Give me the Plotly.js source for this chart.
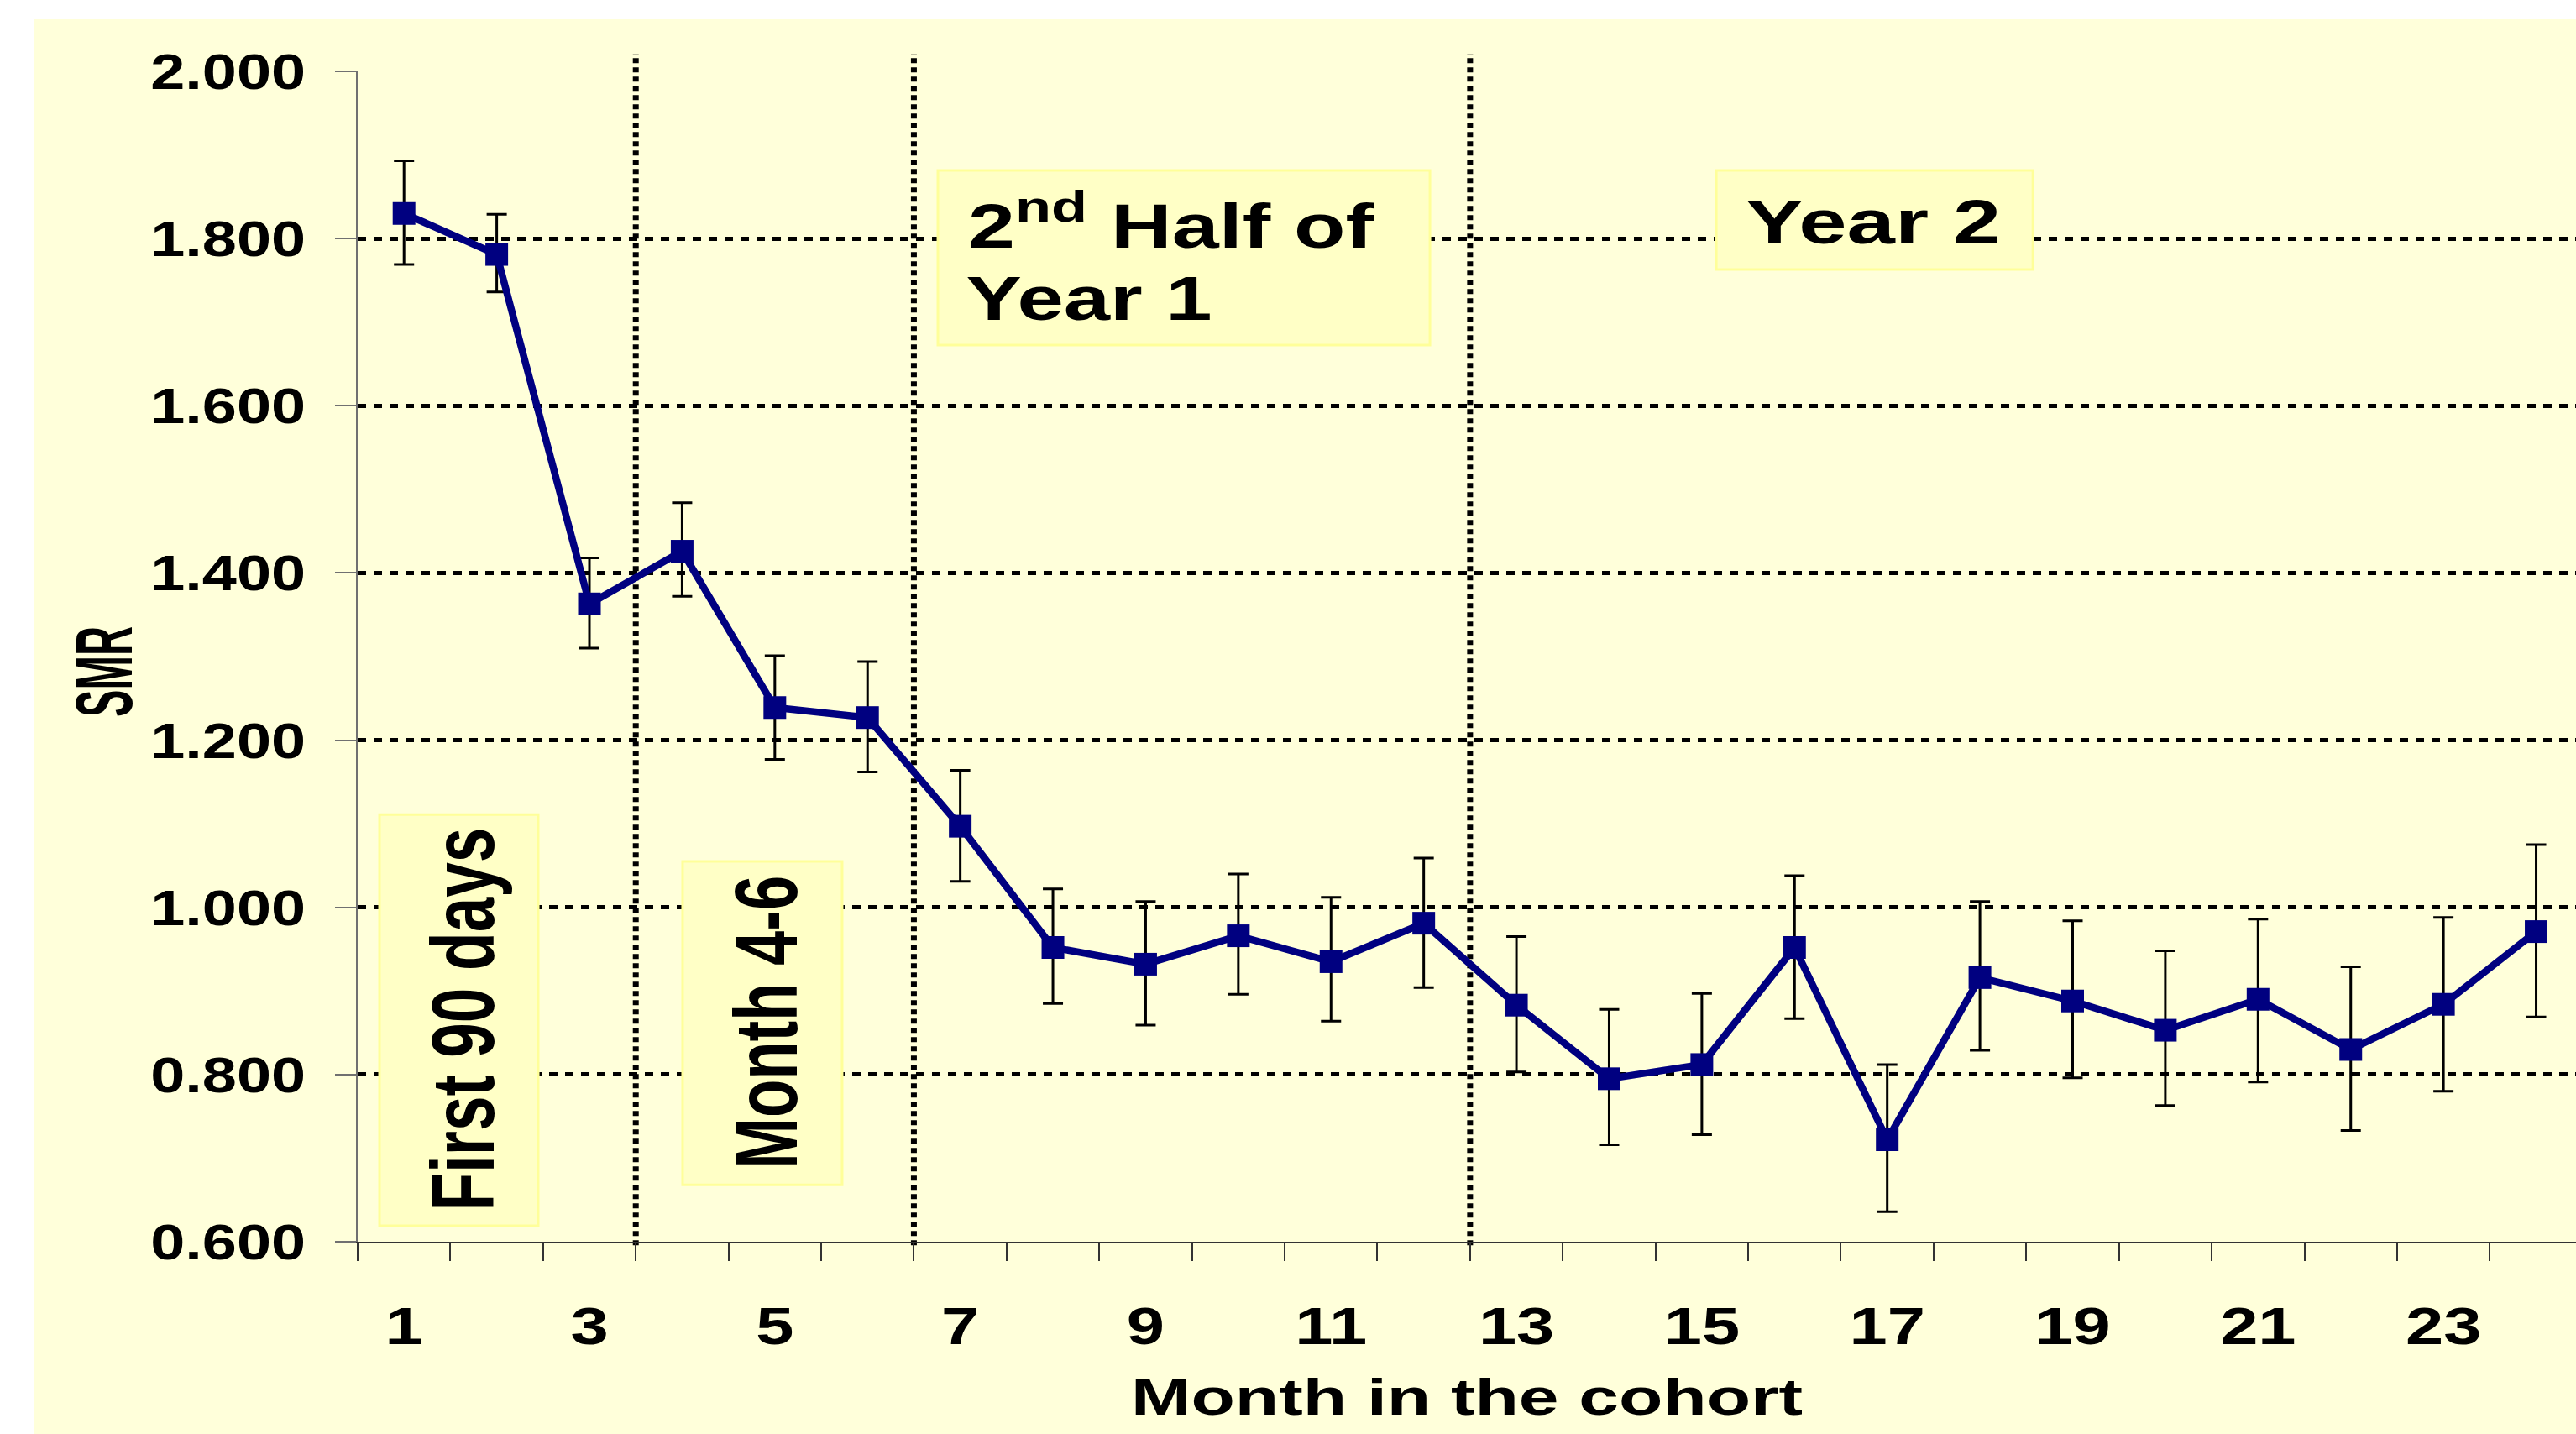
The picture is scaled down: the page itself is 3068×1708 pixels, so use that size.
<!DOCTYPE html>
<html>
<head>
<meta charset="utf-8">
<script src="https://cdn.plot.ly/plotly-3.0.1.min.js"></script>
<style>
html,body{margin:0;padding:0;background:#ffffff;width:3068px;height:1708px;overflow:hidden}
#chart{position:absolute;left:40px;top:23px;width:3028px;height:1685px}
</style>
</head>
<body>
<div id="chart"></div>
<script>
// ---- data ----
const months = [1,2,3,4,5,6,7,8,9,10,11,12,13,14,15,16,17,18,19,20,21,22,23,24];
const smr    = [1.830,1.781,1.363,1.426,1.239,1.227,1.097,0.952,0.932,0.966,0.935,0.981,
                0.883,0.795,0.812,0.952,0.722,0.916,0.888,0.853,0.890,0.830,0.884,0.971];
const ciLow  = [1.769,1.736,1.310,1.372,1.177,1.162,1.031,0.885,0.859,0.896,0.864,0.904,
                0.803,0.716,0.728,0.867,0.636,0.829,0.796,0.763,0.791,0.733,0.780,0.869];
const ciHigh = [1.893,1.829,1.418,1.484,1.301,1.294,1.164,1.022,1.007,1.040,1.012,1.059,
                0.965,0.878,0.897,1.038,0.812,1.007,0.984,0.948,0.986,0.929,0.988,1.075];
const tickMonths = [1,3,5,7,9,11,13,15,17,19,21,23];
const periodBreaks = [3.5, 6.5, 12.5];
const periodLabels = ['First 90 days', 'Month 4-6', '2<sup>nd</sup> Half of', 'Year 1', 'Year 2'];
const xTitle = 'Month in the cohort';
const yTitle = 'SMR';

// ---- styling ----
const NAVY = '#000080';
const BG = '#FFFFDA';
const BOX_FILL = '#FFFFC6';
const BOX_LINE = '#FFFF99';
const FONT = 'Liberation Sans, Arial, sans-serif';

const errPlus = smr.map((v, i) => ciHigh[i] - v);
const errMinus = smr.map((v, i) => v - ciLow[i]);

const trace = {
  type: 'scatter',
  mode: 'lines+markers',
  x: months,
  y: smr,
  line: {color: NAVY, width: 8.5},
  marker: {symbol: 'square', size: 27, color: NAVY},
  error_y: {type: 'data', symmetric: false, array: errPlus, arrayminus: errMinus,
            color: '#000000', thickness: 3, width: 12},
  cliponaxis: false,
  showlegend: false,
  hoverinfo: 'skip'
};

const shapes = [];
periodBreaks.forEach(b => shapes.push({
  type: 'line', xref: 'x', yref: 'paper', x0: b, x1: b, y0: -0.003, y1: 1.0151,
  line: {color: '#000000', width: 7, dash: '6px,5px'}, layer: 'between'
}));
const boxes = [
  [0.7355, 2.4475, 0.619, 1.111],
  [4.005, 5.726, 0.668, 1.055],
  [6.759, 12.067, 1.6726, 1.8815],
  [15.156, 18.571, 1.763, 1.8815]
];
boxes.forEach(b => shapes.push({
  type: 'rect', xref: 'x', yref: 'y', x0: b[0], x1: b[1], y0: b[2], y1: b[3],
  fillcolor: BOX_FILL, line: {color: BOX_LINE, width: 3}, layer: 'between'
}));

const annFont = (s) => ({family: FONT, size: s, color: '#000000', weight: 'bold'});
const annotations = [
  {text: periodLabels[0], x: 1.632, y: 0.866, textangle: -90, font: annFont(106)},
  {text: periodLabels[1], x: 4.902, y: 0.862, textangle: -90, font: annFont(106)},
  {text: periodLabels[2], x: 9.273, y: 1.8198, font: annFont(74)},
  {text: periodLabels[3], x: 8.385, y: 1.7284, font: annFont(74)},
  {text: periodLabels[4], x: 16.85, y: 1.8198, font: annFont(74)}
].map(a => Object.assign({xref: 'x', yref: 'y', showarrow: false, xanchor: 'center', yanchor: 'middle'}, a));

const layout = {
  width: 3028, height: 1685,
  margin: {l: 386, r: 0, t: 62, b: 229, pad: 0},
  paper_bgcolor: BG,
  plot_bgcolor: 'rgba(0,0,0,0)',
  font: {family: FONT, color: '#000000'},
  showlegend: false,
  xaxis: {
    type: 'linear',
    range: [0.5, 24.43],
    tickmode: 'array', tickvals: tickMonths, ticktext: tickMonths.map(String),
    ticks: '', showgrid: false, zeroline: false,
    showline: true, linecolor: '#333333', linewidth: 2,
    tickfont: {family: FONT, size: 63, weight: 'bold', color: '#000000'},
    ticklabelstandoff: 44,
    minor: {tickmode: 'linear', tick0: 0.5, dtick: 1, ticks: 'outside', ticklen: 21,
            tickwidth: 2, tickcolor: '#333333', showgrid: false},
    title: {text: xTitle, standoff: 29, font: {family: FONT, size: 62, weight: 'bold', color: '#000000'}},
    automargin: false, fixedrange: true
  },
  yaxis: {
    range: [0.6, 2.0],
    tickmode: 'linear', tick0: 0.6, dtick: 0.2, tickformat: '.3f',
    ticks: 'outside', ticklen: 25, tickwidth: 2, tickcolor: '#707070',
    showline: true, linecolor: '#707070', linewidth: 2,
    showgrid: true, gridcolor: '#000000', gridwidth: 5, griddash: '10px,9px',
    zeroline: false,
    tickfont: {family: FONT, size: 60, weight: 'bold', color: '#000000'},
    ticklabelstandoff: 23,
    title: {text: yTitle, standoff: 24, font: {family: FONT, size: 96, weight: 'bold', color: '#000000'}},
    automargin: false, fixedrange: true
  },
  shapes: shapes,
  annotations: annotations
};

// horizontal stretch of the reference's lettering (reference image is widened)
const tickStretchX = 1.29, tickStretchY = 1.23;
const titleLengths = {x: 800, y: 108};
const yTitleShift = 18;   // px downwards along the axis
const annLengths = [457, 350, 483, 293, 304];

function fit(el, len) {
  el.setAttribute('textLength', len.toFixed(1));
  el.setAttribute('lengthAdjust', 'spacingAndGlyphs');
}

Plotly.newPlot('chart', [trace], layout, {displayModeBar: false, staticPlot: true}).then(gd => {
  gd.querySelectorAll('.xtick text').forEach(t => fit(t, t.getComputedTextLength() * tickStretchX));
  gd.querySelectorAll('.ytick text').forEach(t => fit(t, t.getComputedTextLength() * tickStretchY));
  const xt = gd.querySelector('.xtitle'); if (xt) fit(xt, titleLengths.x);
  const yt = gd.querySelector('.ytitle');
  if (yt) {
    fit(yt, titleLengths.y);
    const tr = yt.getAttribute('transform') || '';
    yt.setAttribute('transform', tr + ' translate(' + (-yTitleShift) + ',0)');
  }
  gd.querySelectorAll('.annotation-text').forEach((t, i) => { if (annLengths[i]) fit(t, annLengths[i]); });
});
</script>
</body>
</html>
